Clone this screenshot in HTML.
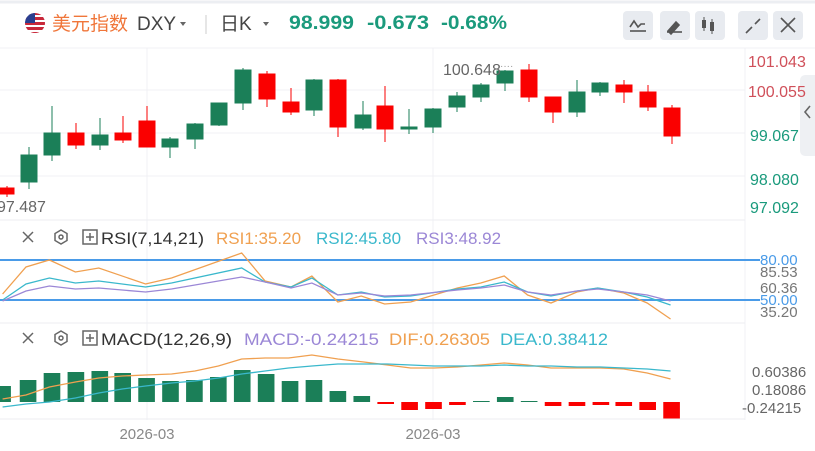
<!DOCTYPE html>
<html><head><meta charset="utf-8"><style>
body{margin:0;width:815px;height:451px;overflow:hidden;background:#fff;font-family:"Liberation Sans","Noto Sans CJK SC",sans-serif}
svg{position:absolute;left:0;top:0}
</style></head><body>
<svg width="815" height="451" viewBox="0 0 815 451" font-family="Liberation Sans, Noto Sans CJK SC, sans-serif">
<rect x="0" y="0" width="815" height="451" fill="#fff"/>
<line x1="0" y1="2" x2="815" y2="2" stroke="#eceef2" stroke-width="3"/>
<!-- header -->
<circle cx="35" cy="23" r="10" fill="#c8283a"/>
<rect x="25" y="15" width="20" height="2" fill="#fff"/><rect x="25" y="20" width="20" height="2" fill="#fff"/><rect x="25" y="25" width="20" height="2" fill="#fff"/><rect x="25" y="30" width="20" height="2" fill="#fff"/>
<path d="M25 23 A10 10 0 0 1 35 13 L35 23 Z" fill="#2a3f8f"/>
<text x="52" y="30" font-size="19" fill="#f0763a">美元指数</text>
<text x="137" y="30" font-size="19" fill="#444">DXY</text>
<path d="M180 22 l6 0 l-3 4z" fill="#666"/>
<line x1="206" y1="15" x2="206" y2="34" stroke="#ccc"/>
<text x="220" y="30" font-size="19" fill="#444">日K</text>
<path d="M263 22 l6 0 l-3 4z" fill="#666"/>
<g font-size="19" font-weight="bold" fill="#1a9a7c"><text x="289" y="29" textLength="65" lengthAdjust="spacingAndGlyphs">98.999</text><text x="367" y="29" textLength="62" lengthAdjust="spacingAndGlyphs">-0.673</text><text x="441" y="29" textLength="66" lengthAdjust="spacingAndGlyphs">-0.68%</text></g>
<g fill="#e8ebf0"><rect x="623" y="11" width="30" height="29" rx="4"/><rect x="660" y="11" width="30" height="29" rx="4"/><rect x="695" y="11" width="30" height="29" rx="4"/><rect x="738" y="11" width="30" height="29" rx="4"/><rect x="773" y="11" width="30" height="29" rx="4"/></g>
<g stroke="#555" stroke-width="1.6" fill="none"><path d="M630 27 l4-6 l4 6 l3-3 l4 0"/><line x1="630" y1="31" x2="646" y2="31"/><path d="M668 31 l8-9 l3 3 l-8 9z" fill="#555"/><line x1="667" y1="32" x2="682" y2="32"/><line x1="746" y1="33" x2="752" y2="27"/><line x1="755" y1="24" x2="760" y2="19"/><line x1="781" y1="18" x2="795" y2="32"/><line x1="795" y1="18" x2="781" y2="32"/></g>
<g fill="#555"><rect x="702" y="20" width="4" height="8"/><line x1="704" y1="17" x2="704" y2="31" stroke="#555"/><rect x="710" y="22" width="4" height="9"/><line x1="712" y1="19" x2="712" y2="34" stroke="#555"/></g>
<!-- main panel grid -->
<g stroke="#f0f1f4" stroke-width="1"><line x1="0" y1="90" x2="745" y2="90"/><line x1="0" y1="133" x2="745" y2="133"/><line x1="0" y1="176" x2="745" y2="176"/><line x1="147" y1="48" x2="147" y2="420"/><line x1="433" y1="48" x2="433" y2="420"/><line x1="745" y1="48" x2="745" y2="420"/><line x1="0" y1="48" x2="815" y2="48"/></g>
<line x1="0" y1="220" x2="745" y2="220" stroke="#eceef2"/>
<path d="M815 75 L806 75 Q800 75 800 81 L800 150 Q800 156 806 156 L815 156Z" fill="#eef0f3"/>
<path d="M810 106 l-5 6 l5 6" stroke="#666" stroke-width="1.6" fill="none"/>
<!-- candles -->
<g stroke-width="1">
<g fill="#fa0000" stroke="#fa0000">
<line x1="7" y1="186" x2="7" y2="197"/><rect x="0" y="188" width="14" height="6"/>
<line x1="76" y1="123" x2="76" y2="149"/><rect x="68" y="133" width="16" height="12"/>
<line x1="123" y1="116" x2="123" y2="143"/><rect x="115" y="133" width="16" height="7"/>
<line x1="147" y1="106" x2="147" y2="147"/><rect x="139" y="121" width="16" height="26"/>
<line x1="267" y1="71" x2="267" y2="107"/><rect x="259" y="74" width="16" height="25"/>
<line x1="291" y1="88" x2="291" y2="115"/><rect x="283" y="102" width="16" height="10"/>
<line x1="338" y1="79" x2="338" y2="137"/><rect x="330" y="80" width="16" height="47"/>
<line x1="385" y1="86" x2="385" y2="142"/><rect x="377" y="106" width="16" height="23"/>
<line x1="529" y1="64" x2="529" y2="102"/><rect x="521" y="70" width="16" height="27"/>
<line x1="553" y1="97" x2="553" y2="123"/><rect x="545" y="97" width="16" height="15"/>
<line x1="624" y1="80" x2="624" y2="103"/><rect x="616" y="85" width="16" height="7"/>
<line x1="648" y1="85" x2="648" y2="111"/><rect x="640" y="92" width="16" height="15"/>
<line x1="672" y1="105" x2="672" y2="144"/><rect x="664" y="108" width="16" height="28"/>
</g>
<g fill="#1b7f58" stroke="#1b7f58">
<line x1="29" y1="147" x2="29" y2="189"/><rect x="21" y="155" width="16" height="27"/>
<line x1="52" y1="106" x2="52" y2="161"/><rect x="44" y="133" width="16" height="22"/>
<line x1="100" y1="118" x2="100" y2="150"/><rect x="92" y="135" width="16" height="10"/>
<line x1="170" y1="137" x2="170" y2="158"/><rect x="162" y="139" width="16" height="8"/>
<line x1="195" y1="123" x2="195" y2="149"/><rect x="187" y="124" width="16" height="15"/>
<line x1="219" y1="103" x2="219" y2="126"/><rect x="211" y="103" width="16" height="22"/>
<line x1="243" y1="68" x2="243" y2="110"/><rect x="235" y="70" width="16" height="33"/>
<line x1="314" y1="79" x2="314" y2="116"/><rect x="306" y="80" width="16" height="30"/>
<line x1="363" y1="101" x2="363" y2="130"/><rect x="355" y="115" width="16" height="13"/>
<line x1="409" y1="109" x2="409" y2="134"/><rect x="401" y="127" width="16" height="2"/>
<line x1="433" y1="108" x2="433" y2="133"/><rect x="425" y="109" width="16" height="18"/>
<line x1="457" y1="92" x2="457" y2="112"/><rect x="449" y="96" width="16" height="11"/>
<line x1="481" y1="83" x2="481" y2="102"/><rect x="473" y="85" width="16" height="12"/>
<line x1="505" y1="70" x2="505" y2="91"/><rect x="497" y="71" width="16" height="12"/>
<line x1="577" y1="80" x2="577" y2="117"/><rect x="569" y="92" width="16" height="20"/>
<line x1="600" y1="82" x2="600" y2="96"/><rect x="592" y="83" width="16" height="9"/>
</g></g>
<text x="443" y="75" font-size="16" fill="#666">100.648</text><text x="500" y="69" font-size="10" fill="#999">····</text>
<text x="-3" y="212" font-size="16" fill="#666">97.487</text>
<g font-size="16"><text x="748" y="67" fill="#d0505a">101.043</text><text x="748" y="97" fill="#d0505a">100.055</text><text x="750" y="141" fill="#1a9a7c">99.067</text><text x="750" y="185" fill="#1a9a7c">98.080</text><text x="750" y="213" fill="#1a9a7c">97.092</text></g>
<!-- RSI -->
<g stroke="#666" stroke-width="1.5" fill="none"><path d="M23 232 l10 10 M33 232 l-10 10"/><path d="M61 230 l6 3.5 v7 l-6 3.5 l-6 -3.5 v-7z"/><circle cx="61" cy="237" r="2"/><rect x="83" y="230" width="14" height="14"/><path d="M90 233 v8 M86 237 h8"/></g>
<g font-size="17"><text x="101" y="244" fill="#333" textLength="103" lengthAdjust="spacingAndGlyphs">RSI(7,14,21)</text>
<text x="216" y="244" fill="#f0a050">RSI1:35.20</text>
<text x="316" y="244" fill="#3ab8cc">RSI2:45.80</text>
<text x="416" y="244" fill="#9b87d6">RSI3:48.92</text></g>
<line x1="0" y1="260" x2="760" y2="260" stroke="#4a9be8" stroke-width="2"/>
<line x1="0" y1="300" x2="760" y2="300" stroke="#4a9be8" stroke-width="2"/>
<g font-size="15"><text x="760" y="265" fill="#4a9be8">80.00</text><text x="760" y="277" fill="#777">85.53</text><text x="760" y="293" fill="#777">60.36</text><text x="760" y="305" fill="#4a9be8">50.00</text><text x="760" y="317" fill="#777">35.20</text></g>
<g fill="none" stroke-width="1.3" transform="scale(0.5198 1)">
<polyline stroke="#f0a050" vector-effect="non-scaling-stroke" points="5,294 50,267 95,260 145,272 190,268 280,284 330,278 465,253 510,281 560,287 600,276 650,302 695,296 740,304 790,302 880,288 925,283 970,276 1015,295 1060,303 1110,292 1150,288 1200,293 1245,303 1290,319"/>
<polyline stroke="#3ab8cc" vector-effect="non-scaling-stroke" points="5,300 50,284 95,278 145,283 190,281 280,287 330,283 465,268 510,282 560,287 600,278 650,295 695,292 740,297 790,296 880,289 925,287 970,282 1015,292 1060,296 1110,291 1150,288 1200,292 1245,297 1290,305"/>
<polyline stroke="#9b87d6" vector-effect="non-scaling-stroke" points="5,301 50,291 95,286 145,289 190,288 280,292 330,289 465,277 510,282 560,288 600,283 650,295 695,293 740,296 790,295 880,290 925,288 970,285 1015,292 1060,295 1110,291 1150,289 1200,292 1245,295 1290,301"/>
</g>
<line x1="0" y1="323" x2="745" y2="323" stroke="#eceef2"/>
<!-- MACD -->
<g stroke="#666" stroke-width="1.5" fill="none"><path d="M23 333 l10 10 M33 333 l-10 10"/><path d="M61 331 l6 3.5 v7 l-6 3.5 l-6 -3.5 v-7z"/><circle cx="61" cy="338" r="2"/><rect x="83" y="331" width="14" height="14"/><path d="M90 334 v8 M86 338 h8"/></g>
<g font-size="17"><text x="101" y="345" fill="#333" textLength="131" lengthAdjust="spacingAndGlyphs">MACD(12,26,9)</text>
<text x="244" y="345" fill="#9b87d6" textLength="135" lengthAdjust="spacingAndGlyphs">MACD:-0.24215</text>
<text x="389" y="345" fill="#f0a050" textLength="101" lengthAdjust="spacingAndGlyphs">DIF:0.26305</text>
<text x="500" y="345" fill="#3ab8cc" textLength="108" lengthAdjust="spacingAndGlyphs">DEA:0.38412</text></g>
<g transform="scale(0.5198 1)">
<g fill="#1b7f58">
<rect x="0" y="386" width="21" height="16"/><rect x="38" y="380" width="32" height="22"/><rect x="84" y="373" width="32" height="29"/><rect x="130" y="372" width="32" height="30"/><rect x="176" y="371" width="32" height="31"/><rect x="220" y="373" width="32" height="29"/><rect x="266" y="378" width="32" height="24"/><rect x="312" y="381" width="32" height="21"/><rect x="358" y="380" width="32" height="22"/><rect x="404" y="377" width="32" height="25"/><rect x="450" y="370" width="32" height="32"/><rect x="496" y="374" width="32" height="28"/><rect x="542" y="381" width="32" height="21"/><rect x="588" y="380" width="32" height="22"/><rect x="634" y="391" width="32" height="11"/><rect x="680" y="396" width="32" height="6"/><rect x="910" y="401" width="32" height="1"/><rect x="956" y="397" width="32" height="5"/><rect x="1002" y="401" width="32" height="1"/>
</g>
<g fill="#fa0000">
<rect x="726" y="402" width="32" height="2"/><rect x="772" y="402" width="32" height="8"/><rect x="818" y="402" width="32" height="7"/><rect x="864" y="402" width="32" height="3"/><rect x="1048" y="402" width="32" height="4"/><rect x="1094" y="402" width="32" height="4"/><rect x="1140" y="402" width="32" height="3"/><rect x="1184" y="402" width="32" height="4"/><rect x="1230" y="402" width="32" height="8"/><rect x="1276" y="402" width="32" height="17"/>
</g>
<g fill="none" stroke-width="1.3">
<polyline stroke="#f0a050" vector-effect="non-scaling-stroke" points="5,399 50,395 95,387 145,382 190,378 235,376 280,375 330,374 375,371 420,366 465,359 510,358 555,358 600,355 650,359 700,362 745,365 790,368 835,368 880,367 925,365 970,363 1015,365 1060,368 1110,368 1155,368 1200,369 1245,373 1290,379"/>
<polyline stroke="#3ab8cc" vector-effect="non-scaling-stroke" points="5,407 50,404 95,402 145,398 190,393 235,389 280,386 330,383 375,381 420,378 465,374 510,371 555,368 600,366 650,364 700,364 745,364 790,365 835,366 880,366 925,366 970,365 1015,366 1060,366 1110,367 1155,367 1200,368 1245,369 1290,371"/>
</g></g>
<g font-size="15" fill="#666"><text x="752" y="377">0.60386</text><text x="752" y="395">0.18086</text><text x="742" y="413">-0.24215</text></g>
<line x1="0" y1="419" x2="745" y2="419" stroke="#eceef2"/>
<g font-size="15" fill="#888" text-anchor="middle"><text x="147" y="439">2026-03</text><text x="433" y="439">2026-03</text></g>
</svg>
</body></html>
